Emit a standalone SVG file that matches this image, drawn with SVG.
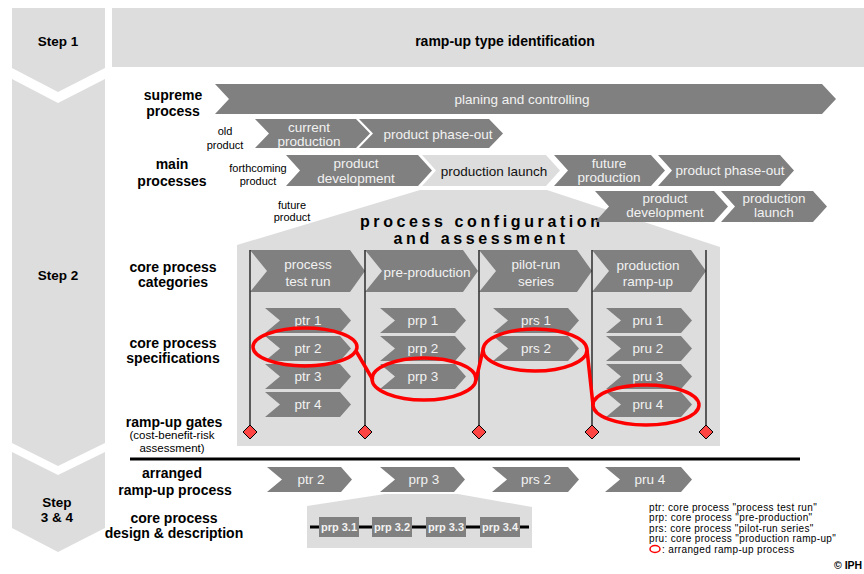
<svg xmlns="http://www.w3.org/2000/svg" width="864" height="574" viewBox="0 0 864 574">
<style>
text{font-family:"Liberation Sans",Arial,sans-serif;}
.bg{fill:#dddddd;}
.ar{fill:#808080;}
.al{fill:#dddddd;}
.lbl{font-size:14px;font-weight:bold;fill:#000;text-anchor:middle;}
.stp{font-size:13.5px;font-weight:bold;fill:#000;text-anchor:middle;}
.sm{font-size:11px;fill:#000;text-anchor:middle;}
.wt{font-size:13.5px;fill:#f2f2f2;text-anchor:middle;}
.bt{font-size:13.5px;fill:#111;text-anchor:middle;}
.bx{font-size:11px;font-weight:bold;fill:#f2f2f2;text-anchor:middle;}
.lg{font-size:10px;letter-spacing:0.35px;fill:#000;}
.gate{stroke:#000;stroke-width:1.2;}
.dia{fill:#ff4444;stroke:#000;stroke-width:1;}
.red{fill:none;stroke:#ff0000;stroke-width:3.5;}
</style>

<!-- Steps -->
<g id="step1">
<polygon class="bg" points="12,8 105,8 105,68 58,92 12,68"/>
<text class="stp" x="58" y="46">Step 1</text>
</g>
<g id="step2">
<polygon class="bg" points="12,79 58,103 105,79 105,443 58,466 12,443"/>
<text class="stp" x="58" y="280">Step 2</text>
</g>
<g id="step34">
<polygon class="bg" points="12,452 58,475 105,452 105,528 58,552 12,528"/>
<text class="stp" x="57" y="507">Step</text>
<text class="stp" x="57" y="522">3 &amp; 4</text>
</g>
<g id="banner">
<rect class="bg" x="112" y="8" width="752" height="59"/>
<text class="lbl" x="505" y="46">ramp-up type identification</text>
</g>

<!-- Left labels -->
<g id="labels">
<text class="lbl" x="173" y="100">supreme</text>
<text class="lbl" x="173" y="116">process</text>
<text class="lbl" x="172" y="169">main</text>
<text class="lbl" x="172" y="186">processes</text>
<text class="lbl" x="173" y="272">core process</text>
<text class="lbl" x="173" y="287">categories</text>
<text class="lbl" x="173" y="348">core process</text>
<text class="lbl" x="173" y="363">specifications</text>
<text class="lbl" x="174" y="427">ramp-up gates</text>
<text class="sm" x="172" y="439" style="font-size:11.5px">(cost-benefit-risk</text>
<text class="sm" x="172" y="452" style="font-size:11.5px">assessment)</text>
<text class="lbl" x="172" y="478">arranged</text>
<text class="lbl" x="175" y="495">ramp-up process</text>
<text class="lbl" x="174" y="523">core process</text>
<text class="lbl" x="174" y="538">design &amp; description</text>
<text class="sm" x="225" y="135">old</text>
<text class="sm" x="225" y="149">product</text>
<text class="sm" x="258" y="172">forthcoming</text>
<text class="sm" x="258" y="185">product</text>
<text class="sm" x="292" y="209">future</text>
<text class="sm" x="292" y="221">product</text>
</g>

<!-- Supreme process -->
<g id="supreme">
<polygon class="ar" points="215,84 822,84 836,99 822,114 215,114 229,99"/>
<text class="wt" x="522" y="104">planing and controlling</text>
</g>

<!-- Old product row -->
<g id="old-current">
<polygon class="ar" points="255,119 356,119 370,133.5 356,148 255,148 269,133.5"/>
<text class="wt" x="309" y="132">current</text>
<text class="wt" x="309" y="146">production</text>
</g>
<g id="old-phaseout">
<polygon class="ar" points="359,119 489,119 503,133.5 489,148 359,148 373,133.5"/>
<text class="wt" x="438" y="139">product phase-out</text>
</g>

<!-- Config shape (background) -->
<g id="config">
<polygon class="al" points="420,190 547,190 720,247 720,446 237,446 237,245"/>
<text x="481.8" y="226.5" style="font-size:16px;font-weight:bold;letter-spacing:3.6px;text-anchor:middle">process configuration</text>
<text x="481" y="243.5" style="font-size:16px;font-weight:bold;letter-spacing:3.6px;text-anchor:middle">and assessment</text>
</g>

<!-- Main processes row -->
<g id="main-dev">
<polygon class="ar" points="286,155 418,155 432,170.5 418,186 286,186 300,170.5"/>
<text class="wt" x="356" y="168">product</text>
<text class="wt" x="356" y="183">development</text>
</g>
<g id="main-launch">
<polygon class="al" points="422,155 546,155 560,170.5 546,186 422,186 436,170.5"/>
<text class="bt" x="494" y="175.5">production launch</text>
</g>
<g id="main-future">
<polygon class="ar" points="554,155 651,155 665,170.5 651,186 554,186 568,170.5"/>
<text class="wt" x="609" y="168">future</text>
<text class="wt" x="609" y="182">production</text>
</g>
<g id="main-phaseout">
<polygon class="ar" points="658,155 780,155 794,170.5 780,186 658,186 672,170.5"/>
<text class="wt" x="730" y="175">product phase-out</text>
</g>

<!-- Future product row -->
<g id="fut-dev">
<polygon class="ar" points="595,191 714,191 728,206.5 714,222 595,222 609,206.5"/>
<text class="wt" x="665" y="203">product</text>
<text class="wt" x="665" y="217">development</text>
</g>
<g id="fut-launch">
<polygon class="ar" points="721,191 813,191 827,206.5 813,222 721,222 735,206.5"/>
<text class="wt" x="774" y="203">production</text>
<text class="wt" x="774" y="217">launch</text>
</g>

<!-- Core process categories -->
<g id="cat-ptr">
<polygon class="ar" points="250,250 350,250 365,271 350,292 250,292 267,271"/>
<text class="wt" x="308" y="269">process</text>
<text class="wt" x="308" y="286">test run</text>
</g>
<g id="cat-prp">
<polygon class="ar" points="365,250 463,250 478,271 463,292 365,292 382,271"/>
<text class="wt" x="427" y="277">pre-production</text>
</g>
<g id="cat-prs">
<polygon class="ar" points="479,250 577,250 592,271 577,292 479,292 496,271"/>
<text class="wt" x="536" y="269">pilot-run</text>
<text class="wt" x="536" y="286">series</text>
</g>
<g id="cat-pru">
<polygon class="ar" points="592,250 691,250 706,271 691,292 592,292 609,271"/>
<text class="wt" x="648" y="270">production</text>
<text class="wt" x="648" y="286">ramp-up</text>
</g>

<!-- Specifications -->
<g id="ptr1"><polygon class="ar" points="265,308 340,308 351,320.5 340,333 265,333 280,320.5"/><text class="wt" x="308" y="325">ptr 1</text></g>
<g id="ptr2"><polygon class="ar" points="265,336 340,336 351,348.5 340,361 265,361 280,348.5"/><text class="wt" x="308" y="353">ptr 2</text></g>
<g id="ptr3"><polygon class="ar" points="265,364 340,364 351,376.5 340,389 265,389 280,376.5"/><text class="wt" x="308" y="381">ptr 3</text></g>
<g id="ptr4"><polygon class="ar" points="265,392 340,392 351,404.5 340,417 265,417 280,404.5"/><text class="wt" x="308" y="409">ptr 4</text></g>
<g id="prp1"><polygon class="ar" points="380,308 455,308 466,320.5 455,333 380,333 395,320.5"/><text class="wt" x="423" y="325">prp 1</text></g>
<g id="prp2"><polygon class="ar" points="380,336 455,336 466,348.5 455,361 380,361 395,348.5"/><text class="wt" x="423" y="353">prp 2</text></g>
<g id="prp3"><polygon class="ar" points="380,364 455,364 466,376.5 455,389 380,389 395,376.5"/><text class="wt" x="423" y="381">prp 3</text></g>
<g id="prs1"><polygon class="ar" points="493,308 568,308 579,320.5 568,333 493,333 508,320.5"/><text class="wt" x="536" y="325">prs 1</text></g>
<g id="prs2"><polygon class="ar" points="493,336 568,336 579,348.5 568,361 493,361 508,348.5"/><text class="wt" x="536" y="353">prs 2</text></g>
<g id="pru1"><polygon class="ar" points="606,308 681,308 692,320.5 681,333 606,333 621,320.5"/><text class="wt" x="648" y="325">pru 1</text></g>
<g id="pru2"><polygon class="ar" points="606,336 681,336 692,348.5 681,361 606,361 621,348.5"/><text class="wt" x="648" y="353">pru 2</text></g>
<g id="pru3"><polygon class="ar" points="606,364 681,364 692,376.5 681,389 606,389 621,376.5"/><text class="wt" x="648" y="381">pru 3</text></g>
<g id="pru4"><polygon class="ar" points="606,392 681,392 692,404.5 681,417 606,417 621,404.5"/><text class="wt" x="648" y="409">pru 4</text></g>

<!-- Arranged ramp-up process -->
<g id="arr-ptr2"><polygon class="ar" points="267,467 341,467 352,479.5 341,492 267,492 282,479.5"/><text class="wt" x="311" y="484">ptr 2</text></g>
<g id="arr-prp3"><polygon class="ar" points="380,467 454,467 465,479.5 454,492 380,492 395,479.5"/><text class="wt" x="424" y="484">prp 3</text></g>
<g id="arr-prs2"><polygon class="ar" points="492,467 568,467 579,479.5 568,492 492,492 507,479.5"/><text class="wt" x="536" y="484">prs 2</text></g>
<g id="arr-pru4"><polygon class="ar" points="605,467 681,467 692,479.5 681,492 605,492 620,479.5"/><text class="wt" x="650" y="484">pru 4</text></g>

<!-- Core process design -->
<g id="design">
<polygon class="al" points="307,506 385,494 458,494 532,507 532,548 307,548"/>
<line x1="310" y1="527" x2="529" y2="527" stroke="#000" stroke-width="3"/>
<rect class="ar" x="319" y="517" width="40" height="20"/>
<text class="bx" x="339" y="531">prp 3.1</text>
<rect class="ar" x="372" y="517" width="40" height="20"/>
<text class="bx" x="392" y="531">prp 3.2</text>
<rect class="ar" x="426" y="517" width="40" height="20"/>
<text class="bx" x="446" y="531">prp 3.3</text>
<rect class="ar" x="480" y="517" width="40" height="20"/>
<text class="bx" x="500" y="531">prp 3.4</text>
</g>

<!-- Connectors: gates, separator, arranged path -->
<g id="connectors">
<line class="gate" x1="250" y1="250" x2="250" y2="432"/>
<line class="gate" x1="365" y1="250" x2="365" y2="432"/>
<line class="gate" x1="479" y1="250" x2="479" y2="432"/>
<line class="gate" x1="592" y1="250" x2="592" y2="432"/>
<line class="gate" x1="706" y1="250" x2="706" y2="432"/>
<polygon class="dia" points="250,425 257,432 250,439 243,432"/>
<polygon class="dia" points="365,425 372,432 365,439 358,432"/>
<polygon class="dia" points="479,425 486,432 479,439 472,432"/>
<polygon class="dia" points="592,425 599,432 592,439 585,432"/>
<polygon class="dia" points="706,425 713,432 706,439 699,432"/>
<line x1="130" y1="459" x2="800" y2="459" stroke="#000" stroke-width="3"/>
<ellipse class="red" cx="305" cy="347" rx="52" ry="19"/>
<ellipse class="red" cx="424" cy="379" rx="52" ry="21"/>
<ellipse class="red" cx="535" cy="350" rx="52" ry="21"/>
<ellipse class="red" cx="646" cy="405" rx="53" ry="20"/>
<path class="red" d="M356,351 L373,380 M476,380 L483,350 M587,350 L593,405"/>
</g>

<!-- Legend -->
<g id="legend">
<text class="lg" x="649" y="510.5">ptr: core process "process test run"</text>
<text class="lg" x="649" y="521">prp: core process "pre-production"</text>
<text class="lg" x="649" y="531.5">prs: core process "pilot-run series"</text>
<text class="lg" x="649" y="542">pru: core process "production ramp-up"</text>
<ellipse cx="655" cy="549" rx="5" ry="3.5" fill="none" stroke="#ff0000" stroke-width="1.5"/>
<text class="lg" x="662" y="552.5">: arranged ramp-up process</text>
<text x="834" y="569" style="font-size:10.5px;font-weight:bold">© IPH</text>
</g>
</svg>
